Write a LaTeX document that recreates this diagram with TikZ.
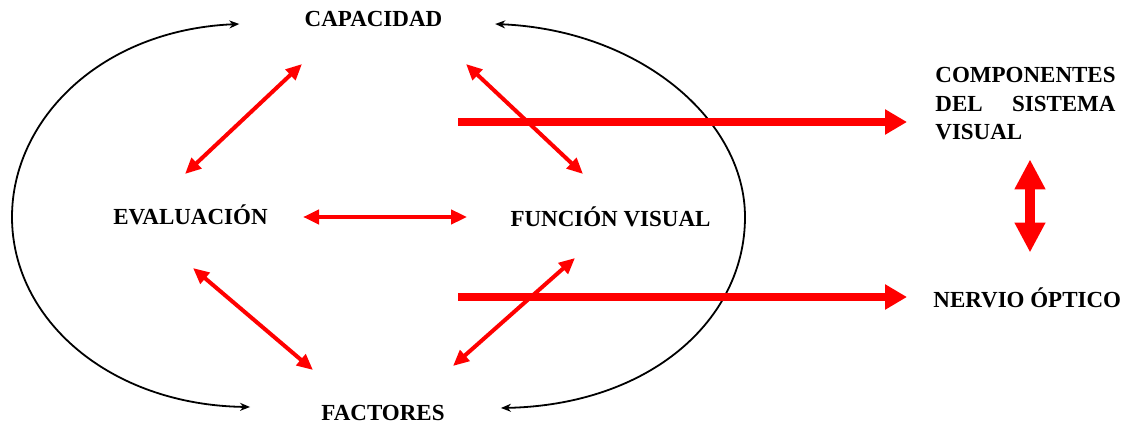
\documentclass[tikz,border=0pt]{standalone}
\usepackage{fontspec}
\setmainfont{Liberation Serif}
\usepackage{calc}
\usetikzlibrary{arrows.meta,calc}

\begin{document}
\begin{tikzpicture}[x=0.5pt,y=-0.5pt]
\tikzset{
  tag/.style={font=\fontsize{11.5}{14.25}\selectfont\bfseries, inner sep=0pt},
  word/.style={tag, text height=7.6pt, text depth=0pt},
  link/.style={red, line width=2pt, {Triangle[length=8pt,width=7pt]}-{Triangle[length=8pt,width=7pt]}},
  flow/.style={red, line width=4pt, -{Triangle[length=11pt,width=12pt]}},
  bigflow/.style={red, line width=5pt, {Triangle[length=15pt,width=14.5pt]}-{Triangle[length=15pt,width=14.5pt]}},
  ring/.style={black, line width=0.9pt, {Stealth[length=5pt,width=4pt]}-{Stealth[length=5pt,width=4pt]}}
}
\useasboundingbox (0,0) rectangle (1132,423);

\node[word] (cap) at (373.5,18.5) {CAPACIDAD};
\node[word] (eval) at (190.5,217) {EVALUACIÓN};
\node[word] (func) at (610.5,219) {FUNCIÓN VISUAL};
\node[word] (fac) at (383,412.5) {FACTORES};
\node[tag, anchor=north west, align=left] (comp) at (935,67)
  {COMPONENTES\\\makebox[\widthof{COMPONENTES}][s]{DEL\hfill SISTEMA}\\VISUAL};
\node[word, anchor=west] (nerv) at (933,299.5) {NERVIO ÓPTICO};

% outer loops
\draw[ring] ($(cap.west)+(-65,5.5)$) .. controls (100,30) and (12,120) .. (12,217)
  .. controls (12,320) and (110,405) .. ($(fac.west)+(-71,-5.5)$);
\draw[ring] ($(cap.east)+(52.5,5.5)$) .. controls (640,30) and (745,120) .. (745,217)
  .. controls (745,320) and (650,405) .. ($(fac.east)+(56,-4.5)$);

% links between the four terms
\draw[link] ($(cap)+(-71.5,45.5)$) -- ($(eval)+(-5.5,-43)$);
\draw[link] ($(cap)+(92.5,45.5)$) -- ($(func)+(-27.5,-45)$);
\draw[link] ($(eval.east)+(35,0)$) -- ($(eval.east -| func.west)+(-43,0)$);
\draw[link] ($(eval)+(2.5,51)$) -- ($(fac)+(-70,-42.5)$);
\draw[link] ($(func)+(-35.5,39)$) -- ($(fac)+(70,-46.5)$);

% towards the visual system
\coordinate (s1) at (458,122);
\coordinate (s2) at (458,297);
\draw[flow] (s1) -- ($(s1 -| comp.west)+(-28,0)$);
\draw[flow] (s2) -- ($(s2 -| nerv.west)+(-26,0)$);
\draw[bigflow] ($(comp.south west)+(95,19)$) -- ($(nerv.north west)+(97,-39)$);
\end{tikzpicture}
\end{document}
